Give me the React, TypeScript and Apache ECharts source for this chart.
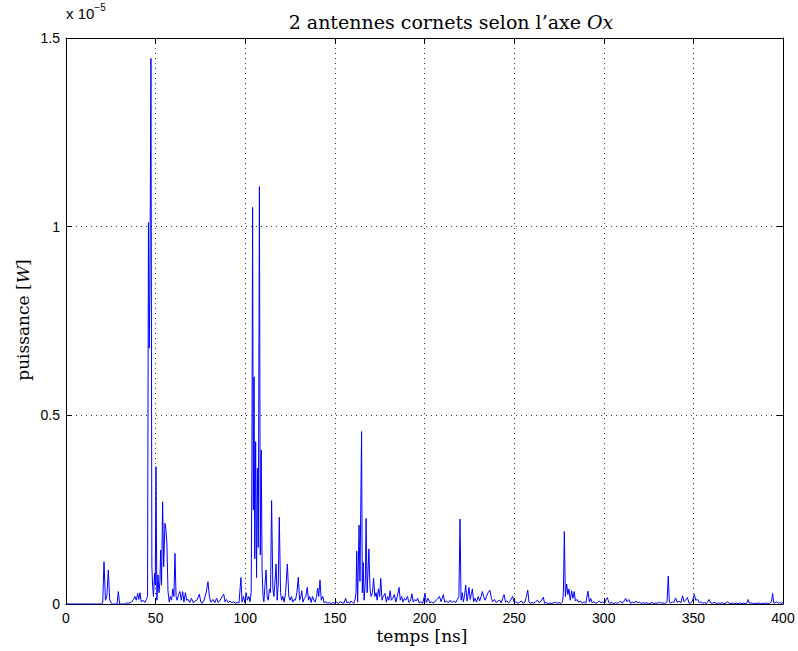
import React, { useEffect, useRef } from "react";
import * as echarts from "echarts";

// time in ns
const timeNs: number[] = [
  0, 20, 20.5, 21.2, 22.0, 22.8, 23.6, 24.4, 25.2, 26, 28.5, 29.2, 29.9, 33, 34, 35, 36.5, 37.5, 38.5, 39.2,
  40.0, 40.6, 41.3, 42.0, 43.0, 44.0, 44.8, 45.5, 46.0, 46.4, 46.8, 47.4, 47.9, 48.3, 48.8, 49.4, 49.8, 50.2, 50.7, 51.3,
  51.9, 52.4, 52.8, 53.3, 53.9, 54.5, 55.2, 55.7, 56.3, 56.9, 57.6, 58.2, 58.9, 59.6, 60.2, 60.8, 61.4, 62.0, 62.8, 63.6,
  64.3, 65.1, 65.8, 66.6, 67.3, 68.2, 69.0, 70.0, 71.0, 72.0, 73.0, 74.4, 75.2, 76.0, 77.0, 78.2, 79.2, 80.0, 80.8, 82,
  83, 84, 85, 86, 87.2, 88, 88.7, 89.5, 90.5, 91.5, 92.5, 93.5, 94.5, 95.5, 96.5, 97.6, 98.2, 99.0, 99.8, 100.5,
  101.2, 102.0, 102.7, 103.3, 103.7, 104.1, 104.5, 104.9, 105.3, 105.8, 106.3, 106.8, 107.3, 107.9, 108.4, 108.9, 109.4, 109.9, 110.4, 111.0,
  111.6, 112.2, 112.8, 113.5, 114.1, 114.7, 115.4, 116.0, 116.6, 117.2, 117.8, 118.4, 119.0, 119.7, 120.3, 121.0, 121.7, 122.5, 123.5, 124.3,
  125.0, 125.8, 126.5, 127.3, 128.0, 128.8, 129.6, 130.3, 131.0, 131.5, 132.2, 133.0, 133.8, 134.6, 135.3, 136.0, 136.8, 137.5, 138.3, 139.0,
  139.8, 140.4, 141.0, 141.7, 142.4, 143.3, 144.0, 145, 146, 147, 148, 149, 150, 151, 152, 153, 154, 155, 156, 156.8,
  157.5, 158.3, 159, 159.8, 160.5, 161.2, 161.8, 162.2, 162.7, 163.5, 164.0, 164.9, 165.3, 165.8, 166.3, 167.0, 167.4, 168.0, 169.0, 169.6,
  170.2, 171.0, 171.6, 172.3, 173.0, 173.6, 174.3, 175.0, 175.6, 176.3, 177.0, 178.0, 178.7, 179.4, 180.1, 180.8, 181.5, 182.3, 183.2, 184.0,
  184.8, 185.8, 186.5, 187.3, 188.0, 188.8, 189.5, 190.5, 191.3, 192.2, 193.0, 193.7, 194.5, 195.3, 196.2, 197.0, 198.0, 199.0, 200.3, 201.0,
  202.0, 203.0, 204.0, 205.0, 206.0, 207.0, 208.3, 209.3, 210.5, 211.3, 212.3, 213.3, 214.3, 215.3, 216.3, 217.3, 218.3, 219.2, 219.8, 220.4,
  221.1, 221.7, 222.3, 223.0, 223.7, 224.2, 224.8, 225.5, 226.1, 226.7, 227.4, 228.2, 229.0, 230.0, 230.8, 231.6, 232.3, 233.0, 233.8, 234.6,
  235.5, 236.5, 237.3, 238.0, 239.0, 240.0, 241.0, 242.0, 242.8, 243.6, 244.4, 245.2, 246.0, 247.0, 248.0, 249.2, 250.0, 251.0, 252.0, 253.0,
  254.0, 255.0, 256.0, 256.9, 257.6, 258.3, 259.0, 260.0, 261.0, 262.0, 263.0, 264.0, 265.0, 266.3, 267.0, 268.0, 269.0, 270, 271, 272,
  273, 274, 275, 276, 277, 277.5, 278.0, 278.6, 279.3, 280.0, 280.6, 281.3, 282.1, 282.8, 283.5, 284.2, 285.0, 286.0, 287.0, 288,
  289, 290, 291.2, 292.0, 292.7, 293.5, 294.5, 295.5, 296.5, 297.5, 298.5, 299.5, 300.5, 301.3, 302.0, 302.8, 303.5, 304.5, 305.5, 306.5,
  307.5, 308.5, 309.3, 310.2, 311, 312.2, 313, 314, 315, 316, 317, 318, 319, 320, 321, 322, 323, 324, 325, 326,
  327, 328, 329, 330, 331, 332, 333, 334, 335.3, 336.0, 336.6, 337.3, 338.2, 339.0, 340.1, 341, 342, 343, 344, 344.8,
  345.6, 346.7, 347.5, 348.5, 349.5, 350.5, 351.3, 352.4, 353.3, 354.3, 355.3, 356.3, 357.3, 358.8, 359.6, 360.5, 362, 363, 364, 365,
  366, 367, 368, 369, 370, 371, 372, 373, 374, 375, 376, 377, 378, 379, 380.0, 380.6, 381.3, 382.5, 383.5, 384.5,
  385.5, 386.5, 387.5, 388.5, 389.5, 390.5, 391.5, 392.5, 393.6, 394.2, 394.8, 395.5, 396.5, 397.3, 398.2, 399, 400,
];

// power in units of 1e-5 W
const powerE5: number[] = [
  0, 0, 0.005, 0.112, 0.01, 0.02, 0.09, 0.01, 0.003, 0, 0, 0.033, 0, 0, 0.003, 0.002, 0.005, 0.012, 0.02, 0.01,
  0.028, 0.012, 0.03, 0.005, 0.01, 0.004, 0.012, 0.02, 1.011, 0.678, 0.832, 1.446, 0.1, 0.05, 0.02, 0.081, 0.05, 0.364, 0.01, 0.077,
  0.03, 0.06, 0.143, 0.05, 0.271, 0.099, 0.214, 0.2, 0.16, 0.034, 0.005, 0.02, 0.01, 0.04, 0.02, 0.134, 0.02, 0.01, 0.025, 0.033,
  0.01, 0.033, 0.005, 0.03, 0.01, 0.012, 0.004, 0.015, 0.003, 0.008, 0.01, 0.026, 0.005, 0.002, 0.01, 0.03, 0.059, 0.02, 0.005, 0.012,
  0.003, 0.015, 0.004, 0.01, 0.02, 0.026, 0.006, 0.012, 0.004, 0.008, 0.003, 0.006, 0.002, 0.004, 0.003, 0.07, 0.005, 0.02, 0.003, 0.03,
  0.01, 0.02, 0.006, 0.03, 0.35, 1.051, 0.25, 0.602, 0.12, 0.43, 0.07, 0.36, 0.15, 1.106, 0.13, 0.408, 0.09, 0.02, 0.006, 0.05,
  0.09, 0.02, 0.01, 0.04, 0.03, 0.274, 0.04, 0.02, 0.06, 0.106, 0.01, 0.05, 0.23, 0.03, 0.01, 0.02, 0.005, 0.03, 0.106, 0.02,
  0.01, 0.02, 0.005, 0.012, 0.01, 0.03, 0.071, 0.01, 0.02, 0.035, 0.005, 0.015, 0.02, 0.044, 0.01, 0.02, 0.004, 0.02, 0.01, 0.005,
  0.02, 0.042, 0.02, 0.064, 0.01, 0.02, 0.003, 0.006, 0.002, 0.004, 0.001, 0.004, 0.002, 0.005, 0.001, 0.006, 0.004, 0.002, 0.015, 0.003,
  0.005, 0.002, 0.008, 0.004, 0.002, 0.01, 0.03, 0.14, 0.005, 0.209, 0.06, 0.457, 0.03, 0.11, 0.01, 0.06, 0.227, 0.03, 0.146, 0.04,
  0.02, 0.03, 0.068, 0.02, 0.03, 0.01, 0.04, 0.02, 0.068, 0.01, 0.02, 0.028, 0.005, 0.02, 0.01, 0.035, 0.01, 0.015, 0.025, 0.005,
  0.02, 0.044, 0.01, 0.02, 0.005, 0.015, 0.01, 0.02, 0.004, 0.008, 0.027, 0.005, 0.012, 0.008, 0.015, 0.003, 0.006, 0.002, 0.028, 0.004,
  0.015, 0.003, 0.006, 0.002, 0.008, 0.012, 0.02, 0.006, 0.025, 0.005, 0.008, 0.003, 0.01, 0.004, 0.008, 0.003, 0.012, 0.02, 0.225, 0.01,
  0.03, 0.006, 0.02, 0.05, 0.008, 0.02, 0.044, 0.012, 0.025, 0.04, 0.006, 0.015, 0.005, 0.02, 0.008, 0.02, 0.033, 0.02, 0.01, 0.02,
  0.03, 0.037, 0.015, 0.006, 0.012, 0.004, 0.008, 0.01, 0.003, 0.015, 0.025, 0.005, 0.008, 0.003, 0.01, 0.02, 0.004, 0.006, 0.002, 0.004,
  0.008, 0.002, 0.005, 0.02, 0.037, 0.005, 0.002, 0.004, 0.002, 0.006, 0.01, 0.003, 0.008, 0.018, 0.002, 0.004, 0.001, 0.003, 0.001, 0.003,
  0.005, 0.002, 0.004, 0.001, 0.006, 0.03, 0.192, 0.02, 0.053, 0.025, 0.04, 0.01, 0.035, 0.015, 0.033, 0.008, 0.012, 0.005, 0.008, 0.002,
  0.006, 0.002, 0.034, 0.005, 0.015, 0.003, 0.006, 0.002, 0.004, 0.008, 0.003, 0.006, 0.002, 0.012, 0.017, 0.004, 0.002, 0.004, 0.001, 0.003,
  0.002, 0.004, 0.008, 0.002, 0.005, 0.015, 0.006, 0.012, 0.002, 0.005, 0.002, 0.008, 0.003, 0.005, 0.001, 0.004, 0.002, 0.003, 0.001, 0.002,
  0.004, 0.001, 0.003, 0.002, 0.005, 0.002, 0.003, 0.001, 0.006, 0.074, 0.004, 0.002, 0.006, 0.003, 0.016, 0.004, 0.008, 0.003, 0.022, 0.006,
  0.01, 0.017, 0.003, 0.002, 0.008, 0.026, 0.01, 0.012, 0.003, 0.006, 0.002, 0.004, 0.001, 0.012, 0.003, 0.002, 0.004, 0.001, 0.003, 0.001,
  0.004, 0.001, 0.002, 0.006, 0.002, 0.001, 0.003, 0.001, 0.002, 0.001, 0.003, 0.001, 0.002, 0.001, 0.004, 0.012, 0.002, 0.003, 0.001, 0.002,
  0.001, 0.003, 0.001, 0.002, 0.001, 0.003, 0.001, 0.002, 0.006, 0.028, 0.003, 0.002, 0.006, 0.001, 0.004, 0.002, 0.003,
];

const xTicks = [0, 50, 100, 150, 200, 250, 300, 350, 400];
const yTicks = [0, 0.5, 1, 1.5];

const titleText = "2 antennes cornets selon l’axe ";
const titleItalic = "Ox";
const xLabel = "temps [ns]";
const yLabelMain = "puissance [";
const yLabelUnit = "W";
const exponentBase = "x 10";
const exponentPower = "−5";

const W = 798;
const H = 651;
const L = 66, R = 783, T = 38, B = 604;

export default function App() {
  const ref = useRef<HTMLDivElement>(null);
  useEffect(() => {
    if (!ref.current) return;
    const chart = echarts.init(ref.current, null, { renderer: "svg" });
    const data = timeNs.map((t, i) => [t, powerE5[i]]);
    const tickFont = { fontFamily: "Liberation Sans", fontSize: 14, color: "#000" };
    const axisBase = {
      axisLine: { show: true, onZero: false, lineStyle: { color: "#000", width: 1 } },
      axisTick: { show: true, inside: true, length: 6, lineStyle: { color: "#000" } },
    };
    chart.setOption({
      animation: false,
      backgroundColor: "#fff",
      grid: { left: L, right: W - R, top: T, bottom: H - B, containLabel: false },
      xAxis: [
        {
          type: "value", min: xTicks[0], max: xTicks[xTicks.length - 1], interval: 50,
          position: "bottom", ...axisBase,
          axisLabel: { ...tickFont, margin: 7, formatter: (v: number) => String(v) },
          splitLine: { show: true, lineStyle: { color: "#333", type: [1, 4], width: 1 } },
        },
        {
          type: "value", min: 0, max: 400, interval: 50, position: "top", ...axisBase,
          axisLabel: { show: false }, splitLine: { show: false },
        },
      ],
      yAxis: [
        {
          type: "value", min: yTicks[0], max: yTicks[yTicks.length - 1], interval: 0.5,
          position: "left", ...axisBase,
          axisLabel: { ...tickFont, margin: 6, formatter: (v: number) => String(v) },
          splitLine: { show: true, lineStyle: { color: "#333", type: [1, 4], width: 1 } },
        },
        {
          type: "value", min: 0, max: 1.5, interval: 0.5, position: "right", ...axisBase,
          axisLabel: { show: false }, splitLine: { show: false },
        },
      ],
      series: [
        {
          type: "line", data, xAxisIndex: 0, yAxisIndex: 0, showSymbol: false, symbol: "none",
          lineStyle: { color: "#0000ff", width: 1 }, z: 1,
        },
      ],
      graphic: [
        {
          type: "text", x: 451, y: 22,
          style: {
            text: `{a|${titleText}}{b|${titleItalic}}`,
            align: "center", verticalAlign: "middle",
            rich: {
              a: { fontFamily: "DejaVu Serif", fontSize: 19, fill: "#000" },
              b: { fontFamily: "DejaVu Serif", fontSize: 19, fontStyle: "italic", fill: "#000" },
            },
          },
        },
        {
          type: "text", x: 422, y: 636,
          style: { text: xLabel, align: "center", verticalAlign: "middle", fontFamily: "DejaVu Serif", fontSize: 17, fill: "#000" },
        },
        {
          type: "text", x: 23, y: 320, rotation: Math.PI / 2,
          style: {
            text: `{a|${yLabelMain}}{b|${yLabelUnit}}{a|]}`,
            align: "center", verticalAlign: "middle",
            rich: {
              a: { fontFamily: "DejaVu Serif", fontSize: 17, fill: "#000" },
              b: { fontFamily: "DejaVu Serif", fontSize: 17, fontStyle: "italic", fill: "#000" },
            },
          },
        },
        {
          type: "text", x: 66, y: 21,
          style: {
            text: `{a|${exponentBase}}{b|${exponentPower}}`,
            align: "left", verticalAlign: "bottom",
            rich: {
              a: { fontFamily: "Liberation Sans", fontSize: 15, fill: "#000", verticalAlign: "bottom" },
              b: { fontFamily: "Liberation Sans", fontSize: 10, fill: "#000", verticalAlign: "top", padding: [0, 0, 9, 0] },
            },
          },
        },
      ],
    });
    return () => chart.dispose();
  }, []);
  return <div ref={ref} style={{ width: W, height: H, position: "absolute", left: 0, top: 0 }} />;
}
